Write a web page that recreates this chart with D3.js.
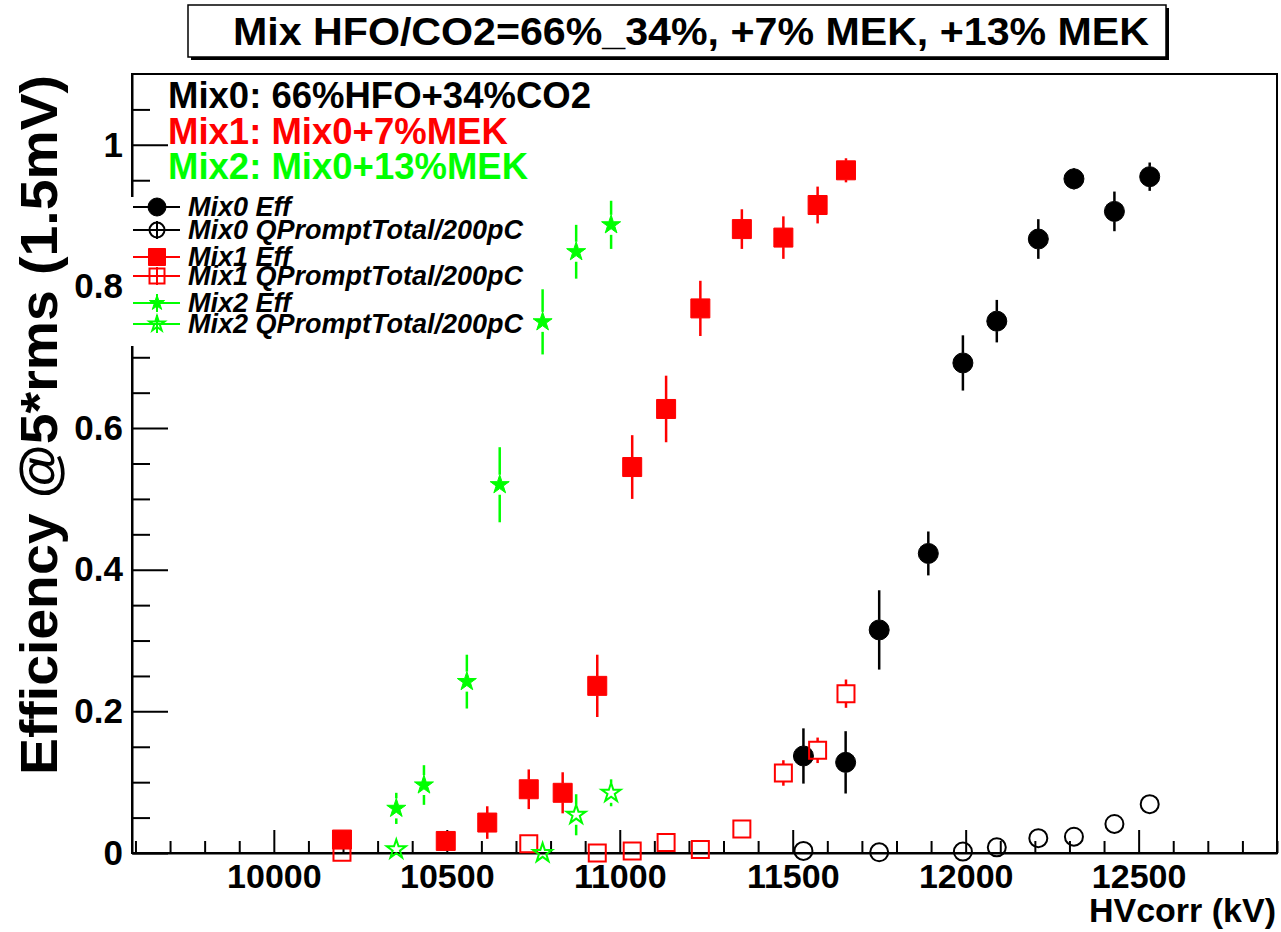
<!DOCTYPE html>
<html>
<head>
<meta charset="utf-8">
<script src="https://cdn.jsdelivr.net/npm/d3@7/dist/d3.min.js"></script>
<style>
  body { margin: 0; background: #fff; }
  text { font-family: "Liberation Sans", Arial, Helvetica, sans-serif; font-weight: bold; }
</style>
</head>
<body>
<div id="chart"></div>
<script>
// ---- data ----
// Mix0 = 66%HFO+34%CO2
var mix0X      = [11531, 11653, 11750, 11892, 11992, 12090, 12210, 12313, 12430, 12532];
var mix0Eff    = [0.137, 0.128, 0.315, 0.423, 0.692, 0.751, 0.867, 0.952, 0.906, 0.955];
var mix0EffErr = [0.039, 0.044, 0.056, 0.031, 0.039, 0.030, 0.028, 0.015, 0.028, 0.020];
var mix0QX     = [11531, 11750, 11992, 12090, 12210, 12313, 12430, 12532];
var mix0Q      = [0.003, 0.001, 0.002, 0.008, 0.021, 0.023, 0.041, 0.069];
var mix0QErr   = [0.003, 0.003, 0.003, 0.003, 0.004, 0.004, 0.005, 0.006];

// Mix1 = Mix0+7%MEK
var mix1X      = [10197, 10497, 10617, 10737, 10835, 10935, 11036, 11134, 11233, 11353, 11473, 11572, 11654];
var mix1Eff    = [0.019, 0.017, 0.043, 0.090, 0.085, 0.236, 0.545, 0.627, 0.769, 0.881, 0.869, 0.915, 0.964];
var mix1EffErr = [0.010, 0.013, 0.023, 0.028, 0.029, 0.044, 0.045, 0.047, 0.039, 0.028, 0.030, 0.026, 0.017];
var mix1QX     = [10197, 10737, 10935, 11036, 11134, 11233, 11353, 11473, 11572, 11654];
var mix1Q      = [0.001, 0.013, 0.000, 0.003, 0.015, 0.005, 0.034, 0.113, 0.145, 0.225];
var mix1QErr   = [0.003, 0.004, 0.003, 0.003, 0.004, 0.005, 0.008, 0.018, 0.018, 0.020];

// Mix2 = Mix0+13%MEK
var mix2X      = [10354, 10434, 10558, 10653, 10777, 10874, 10975];
var mix2Eff    = [0.063, 0.096, 0.242, 0.520, 0.750, 0.849, 0.887];
var mix2EffErr = [0.022, 0.028, 0.038, 0.053, 0.046, 0.038, 0.034];
var mix2QX     = [10354, 10777, 10874, 10975];
var mix2Q      = [0.005, 0.000, 0.054, 0.085];
var mix2QErr   = [0.004, 0.004, 0.029, 0.019];

var xMajor = [10000, 10500, 11000, 11500, 12000, 12500];
var yMajor = [0, 0.2, 0.4, 0.6, 0.8, 1];
var yLabels = ["0", "0.2", "0.4", "0.6", "0.8", "1"];

var titleText = "Mix HFO/CO2=66%_34%, +7% MEK, +13% MEK";
var mixNotes = ["Mix0: 66%HFO+34%CO2", "Mix1: Mix0+7%MEK", "Mix2: Mix0+13%MEK"];
var legendNames = ["Mix0 Eff", "Mix0 QPromptTotal/200pC", "Mix1 Eff",
                   "Mix1 QPromptTotal/200pC", "Mix2 Eff", "Mix2 QPromptTotal/200pC"];

// ---- layout ----
var svgWidth = 1281;
var svgHeight = 932;
var margin = { top: 74, right: 4, bottom: 79, left: 132 };
var width = svgWidth - margin.left - margin.right;
var height = svgHeight - margin.top - margin.bottom;

var svg = d3.select("#chart")
  .append("svg")
  .attr("width", svgWidth)
  .attr("height", svgHeight);

var chartGroup = svg.append("g")
  .attr("transform", `translate(${margin.left}, ${margin.top})`);

var xScale = d3.scaleLinear().domain([9590, 12900]).range([0, width]);
var yScale = d3.scaleLinear().domain([0, 1.1]).range([height, 0]);

// minor ticks
var xMinor = d3.range(9600, 12901, 100).filter(v => v % 500 !== 0);
var yMinor = d3.range(1, 22).map(i => i * 0.05).filter((v, i) => (i + 1) % 4 !== 0);

// frame
chartGroup.append("rect")
  .attr("width", width).attr("height", height)
  .attr("fill", "none").attr("stroke", "#000").attr("stroke-width", 2);

// x axis
chartGroup.append("g")
  .attr("transform", `translate(0, ${height})`)
  .call(d3.axisBottom(xScale).tickValues(xMinor).tickSize(-12).tickSizeOuter(0).tickFormat(""))
  .call(g => g.select(".domain").remove())
  .selectAll("line").attr("stroke-width", 2);

var xAxisG = chartGroup.append("g")
  .attr("transform", `translate(0, ${height})`)
  .call(d3.axisBottom(xScale).tickValues(xMajor).tickSize(-23).tickSizeOuter(0).tickPadding(11).tickFormat(d3.format("d")));
xAxisG.select(".domain").attr("stroke-width", 2);
xAxisG.selectAll("line").attr("stroke-width", 2);
xAxisG.selectAll("text").style("font-size", "34px").attr("fill", "#000");

// y axis
chartGroup.append("g")
  .call(d3.axisLeft(yScale).tickValues(yMinor).tickSize(-18).tickSizeOuter(0).tickFormat(""))
  .call(g => g.select(".domain").remove())
  .selectAll("line").attr("stroke-width", 2);

var yAxisG = chartGroup.append("g")
  .call(d3.axisLeft(yScale).tickValues(yMajor).tickSize(-36).tickSizeOuter(0).tickPadding(9)
    .tickFormat((d, i) => yLabels[i]));
yAxisG.select(".domain").attr("stroke-width", 2);
yAxisG.selectAll("line").attr("stroke-width", 2);
yAxisG.selectAll("text").style("font-size", "35px").attr("fill", "#000");

// axis titles
svg.append("text")
  .attr("x", 1276).attr("y", 922)
  .attr("text-anchor", "end")
  .style("font-size", "34px")
  .text("HVcorr (kV)");

svg.append("text")
  .attr("transform", "translate(57, 75) rotate(-90)")
  .attr("text-anchor", "end")
  .attr("textLength", 700).attr("lengthAdjust", "spacingAndGlyphs")
  .style("font-size", "51px")
  .text("Efficiency @5*rms (1.5mV)");

// ---- markers ----
function markerPath(shape, half) {
  if (shape === "circle") return d3.symbol(d3.symbolCircle, Math.PI * half * half)();
  if (shape === "square") return d3.symbol(d3.symbolSquare, 4 * half * half)();
  return d3.symbol(d3.symbolStar, half * half / 0.8908130915292852)();
}

function drawSeries(xs, ys, errs, color, shape, half, filled) {
  var pts = xs.map((x, i) => ({ x: x, y: ys[i], e: errs[i] }));
  var g = chartGroup.append("g");

  // vertical error bars, leaving a gap where the marker sits
  pts.forEach(function (d) {
    var cy = yScale(d.y);
    var top = yScale(d.y + d.e);
    var bot = yScale(d.y - d.e);
    var cx = xScale(d.x);
    if (cy - top > half) {
      g.append("line").attr("x1", cx).attr("x2", cx).attr("y1", top).attr("y2", cy - half)
        .attr("stroke", color).attr("stroke-width", 2.5);
    }
    if (bot - cy > half) {
      g.append("line").attr("x1", cx).attr("x2", cx).attr("y1", cy + half).attr("y2", Math.min(bot, height))
        .attr("stroke", color).attr("stroke-width", 2.5);
    }
  });

  g.selectAll("path.mk")
    .data(pts)
    .enter()
    .append("path")
    .attr("class", "mk")
    .attr("d", markerPath(shape, half))
    .attr("transform", d => `translate(${xScale(d.x)}, ${yScale(d.y)})`)
    .attr("fill", filled ? color : "none")
    .attr("stroke", color)
    .attr("stroke-width", filled ? 1 : 2);
}

var black = "#000000", red = "#ff0000", green = "#00ff00";

drawSeries(mix0QX, mix0Q, mix0QErr, black, "circle", 9, false);
drawSeries(mix0X, mix0Eff, mix0EffErr, black, "circle", 10, true);
drawSeries(mix1X, mix1Eff, mix1EffErr, red, "square", 9.5, true);
drawSeries(mix1QX, mix1Q, mix1QErr, red, "square", 8.5, false);
drawSeries(mix2X, mix2Eff, mix2EffErr, green, "star", 10, true);
drawSeries(mix2QX, mix2Q, mix2QErr, green, "star", 10, false);

// ---- legend (white box covers the axis) ----
var legendRows = [207, 230, 257, 276, 303, 324];
var legendStyle = [
  [black, "circle", 9, true], [black, "circle", 7.5, false],
  [red, "square", 8.5, true], [red, "square", 7.5, false],
  [green, "star", 8, true], [green, "star", 8, false]
];

svg.append("rect")
  .attr("x", 127).attr("y", 197).attr("width", 403).attr("height", 149)
  .attr("fill", "#fff");

legendNames.forEach(function (name, i) {
  var y = legendRows[i];
  var st = legendStyle[i];
  svg.append("line").attr("x1", 133).attr("x2", 180).attr("y1", y).attr("y2", y)
    .attr("stroke", st[0]).attr("stroke-width", 2);
  svg.append("line").attr("x1", 157).attr("x2", 157).attr("y1", y - 9).attr("y2", y + 9)
    .attr("stroke", st[0]).attr("stroke-width", 2);
  svg.append("path")
    .attr("d", markerPath(st[1], st[2]))
    .attr("transform", `translate(157, ${y})`)
    .attr("fill", st[3] ? st[0] : "none")
    .attr("stroke", st[0]).attr("stroke-width", st[3] ? 1 : 2);
  svg.append("text")
    .attr("x", 188).attr("y", y + 9)
    .style("font-size", "27px").style("font-style", "italic")
    .text(name);
});

// coloured notes
var noteColors = [black, red, green];
var noteY = [108, 144, 179];
mixNotes.forEach(function (t, i) {
  svg.append("text")
    .attr("x", 168).attr("y", noteY[i])
    .attr("fill", noteColors[i])
    .style("font-size", "36.5px")
    .text(t);
});

// ---- title box ----
svg.append("rect")
  .attr("x", 191).attr("y", 8).attr("width", 978).attr("height", 52)
  .attr("fill", "#000");
svg.append("rect")
  .attr("x", 188).attr("y", 5).attr("width", 978).attr("height", 52)
  .attr("fill", "#fff").attr("stroke", "#000").attr("stroke-width", 1.5);
svg.append("text")
  .attr("x", 691).attr("y", 45)
  .attr("text-anchor", "middle")
  .attr("textLength", 916).attr("lengthAdjust", "spacingAndGlyphs")
  .style("font-family", "'Liberation Sans Narrow', 'Liberation Sans', Arial, sans-serif")
  .style("font-size", "38px")
  .text(titleText);
</script>
</body>
</html>
